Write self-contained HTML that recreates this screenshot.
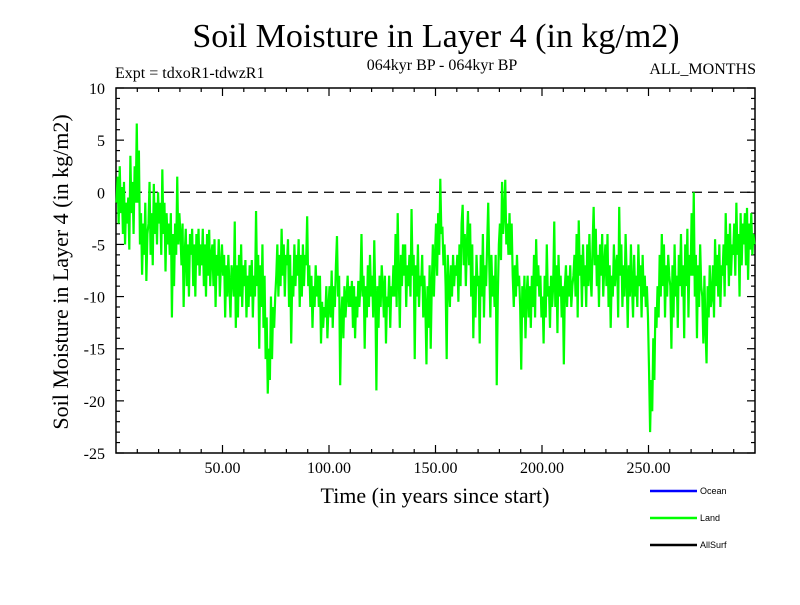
<!DOCTYPE html>
<html><head><meta charset="utf-8"><style>
body{margin:0;background:#fff}
svg text{font-family:"Liberation Serif",serif;fill:#000}
</style></head><body>
<svg id="chart" width="800" height="600" xmlns="http://www.w3.org/2000/svg">
<rect width="800" height="600" fill="#fff"/>
<text x="436" y="47" font-size="34" text-anchor="middle">Soil Moisture in Layer 4 (in kg/m2)</text>
<text x="115" y="78" font-size="16">Expt = tdxoR1-tdwzR1</text>
<text x="442" y="70" font-size="16" text-anchor="middle">064kyr BP - 064kyr BP</text>
<text x="756" y="74" font-size="16" text-anchor="end">ALL_MONTHS</text>
<text transform="translate(68,272) rotate(-90)" font-size="22" text-anchor="middle">Soil Moisture in Layer 4 (in kg/m2)</text>
<text x="435" y="503" font-size="22" text-anchor="middle">Time (in years since start)</text>
<g id="axes"></g>
<g id="series"></g>
<g id="legend"></g>
</svg>
<script>
const yTicks=[10,5,0,-5,-10,-15,-20,-25];
const xTickLabels=["50.00","100.00","150.00","200.00","250.00"];
const xTickValues=[50,100,150,200,250];
const legendNames=["Ocean","Land","AllSurf"];
const legendColors=["#0000ff","#00ff00","#000000"];
const landValues=[
-1,1.5,-3,2.5,-2,0.5,-4,1,-5,-1,
-3,-0.5,-5.5,3.5,-2,1,-4,2.5,-1,6.6,
-1,4,-5,-2,-7.9,-3,-6,-1,-8.5,-4,
-3,1,-6,-2,-7,0.8,-4,-1,-5,0,
-3,-1,-6,2.2,-4,-1,-7.6,-2,-5,-3,
-6,-2,-12,-4,-9,-3,-6,1.5,-5,-2,
-4,-7,-3,-11,-6,-3.5,-9,-5,-10,-4,
-6,-3.5,-9,-5,-10,-4,-7,-3.5,-8,-5,
-7,-3.5,-9,-5,-10,-4,-8,-3.6,-9,-6,
-5,-9,-4.5,-11,-6,-8,-4.5,-10,-7,-5,
-8,-6,-12,-7,-10,-6,-9,-12,-7,-8,
-10,-2.8,-13,-7,-12,-6,-10,-5,-11,-7,
-9,-6.5,-12,-8,-11,-7,-10,-6.5,-12,-8,
-10,-1.8,-9,-6,-15,-7,-11,-5,-13,-8,
-16,-12,-19.3,-15,-18,-10,-16,-11,-13,-10,
-8,-5,-10,-6,-9,-3.5,-8,-5,-10,-6,
-7,-4.5,-11,-6,-14.5,-8,-10,-5,-9,-6,
-8,-4.5,-11,-6,-10,-5,-9,-6,-7,-2.3,
-9,-7,-11,-8,-13,-9,-11,-7,-10,-8,
-11,-8,-14.5,-10.5,-13,-11,-12,-9,-14,-11,
-9,-12,-7.5,-13,-9,-11,-7,-4.2,-10,-8,
-18.5,-12,-10,-14,-9,-12,-10,-8,-11,-9,
-11,-8.5,-13,-9,-14,-10,-12,-8.5,-11,-9,
-4,-10,-8,-15,-9,-12,-7,-11,-6,-10,
-8,-12,-4.6,-10,-19,-9,-13,-8,-11,-7,
-9,-12,-8,-14.5,-10,-11,-8,-13,-9,-10,
-7,-10,-4,-11,-2,-8,-13,-6,-9,-5,
-8,-5,-11,-7,-9,-6,-10,-1.6,-8,-6,
-16,-7,-10,-5,-11,-8,-9,-6,-12,-8,
-11,-16.5,-9,-13,-7,-15,-9,-5,-10,-6,
-3,-8,-2,-6,1.3,-4,-3.3,-7,-5,-9,
-16,-6,-9,-11,-7,-10,-6,-9,-7,-8,
-6,-10.5,-5,-9,-3,-1.2,-7,-4,-9,-5,
-1.8,-7,-3,-10,-5,-14,-8,-12,-6,-9,
-8,-14.5,-6,-10,-4,-12,-7,-9,-5,-1,
-7,-12,-6,-10,-8,-11,-6,-18.5,-10,-5,
-3,-6.5,1,-4,-2,1.2,-5,-3,-6,-2,
-6,-3,-8,-11,-7,-10,-6,-9,-8,-11,
-17,-9,-12,-8,-14,-10,-8,-12,-9,-13,
-8,-11,-6,-12,-4.5,-9,-7,-10,-8,-12,
-10,-14.5,-8,-12,-5,-10,-9,-13,-8,-11,
-9,-2.8,-11,-7,-13.5,-6,-10,-8,-12,-9,
-16.5,-9,-7,-11,-8,-10,-7,-11,-9,-8,
-6,-10,-4,-12,-2.7,-8,-6,-11,-5,-9,
-7,-11,-5,-9,-4,-8,-10,-5,-1.4,-7,
-3.5,-9,-6,-11,-5,-8,-4,-10,-7,-5,
-9,-4,-11,-7,-13,-8,-10,-5,-9,-7,
-6,-12,-1.4,-8,-5,-11,-7,-10,-4,-8,
-13,-7,-10,-5,-9,-12,-6,-10,-8,-11,
-5,-9,-7,-12,-6,-10,-8,-11,-9,-12,
-17,-23,-18,-21,-14,-18,-11,-13,-9,-12,
-6,-10,-4,-9,-5,-12,-7,-10,-6,-8,
-9,-15,-7,-12,-5,-10,-8,-13,-6,-9,
-4,-10,-7,-14,-5,-9,-3.5,-12,-6,-8,
-2,-8,0,-10,-6,-14,-7,-11,-5,-9,
-10,-14.5,-8,-13,-16.4,-9,-12,-7,-11,-10,
-7,-12,-4.5,-9,-6,-10,-5,-11,-7,-8,
-5,-10,-2,-7,-4,-9,-3,-8,-5,-6,
-3,-8,-1,-6,-4,-10,-2,-7,-3,-5,
-2,-7,-1.5,-8.4,-3,-5.5,-2,-6,-4,-5
];
const X0=116,X1=755,Y0=88,Y1=453,xMin=0,xMax=300,yMin=-25,yMax=10;
function xs(v){return X0+(v-xMin)/(xMax-xMin)*(X1-X0);}
function ys(v){return Y1-(v-yMin)/(yMax-yMin)*(Y1-Y0);}
const NS="http://www.w3.org/2000/svg";
function mk(tag,attrs,parent){const e=document.createElementNS(NS,tag);for(const k in attrs)e.setAttribute(k,attrs[k]);parent.appendChild(e);return e;}
const axes=document.getElementById('axes');
const zl=mk('line',{x1:X0,x2:X1,y1:ys(0),y2:ys(0),stroke:'#000','stroke-width':1.3,'stroke-dasharray':'10,6'},axes);


const series=document.getElementById('series');
let pts=[];
for(let i=0;i<landValues.length;i++){const t=(i+0.5)*(xMax-xMin)/landValues.length;pts.push(xs(t).toFixed(2)+','+ys(landValues[i]).toFixed(2));}
const pl=mk('polyline',{points:pts.join(' '),fill:'none',stroke:'#00ff00','stroke-width':2.2,'stroke-linejoin':'miter'},series);


const fr=mk('rect',{x:X0,y:Y0,width:X1-X0,height:Y1-Y0,fill:'none',stroke:'#000','stroke-width':1.5},axes);


for(let v=yMin;v<=yMax;v++){const major=(v%5===0);const L=major?8:4;const y=ys(v);
mk('line',{x1:X0,x2:X0+L,y1:y,y2:y,stroke:'#000','stroke-width':1.2},axes);
mk('line',{x1:X1,x2:X1-L,y1:y,y2:y,stroke:'#000','stroke-width':1.2},axes);}
for(const v of yTicks){const t=mk('text',{x:105,y:ys(v)+6,'font-size':16,'text-anchor':'end'},axes);t.textContent=String(v);

}
for(let v=xMin+10;v<xMax;v+=10){const major=(v%50===0);const L=major?8:4;const x=xs(v);
mk('line',{x1:x,x2:x,y1:Y1,y2:Y1-L,stroke:'#000','stroke-width':1.2},axes);
mk('line',{x1:x,x2:x,y1:Y0,y2:Y0+L,stroke:'#000','stroke-width':1.2},axes);}
xTickValues.forEach((v,i)=>{const t=mk('text',{x:xs(v),y:473,'font-size':16,'text-anchor':'middle'},axes);t.textContent=xTickLabels[i];

});
const lg=document.getElementById('legend');
legendNames.forEach((n,i)=>{const y=491+i*27;
const ln=mk('line',{x1:650,x2:697,y1:y,y2:y,stroke:legendColors[i],'stroke-width':2.5},lg);


const t=mk('text',{x:700,y:y+3,'font-size':9,style:'font-family:"Liberation Sans",sans-serif'},lg);t.textContent=n;

});
</script>
</body></html>
